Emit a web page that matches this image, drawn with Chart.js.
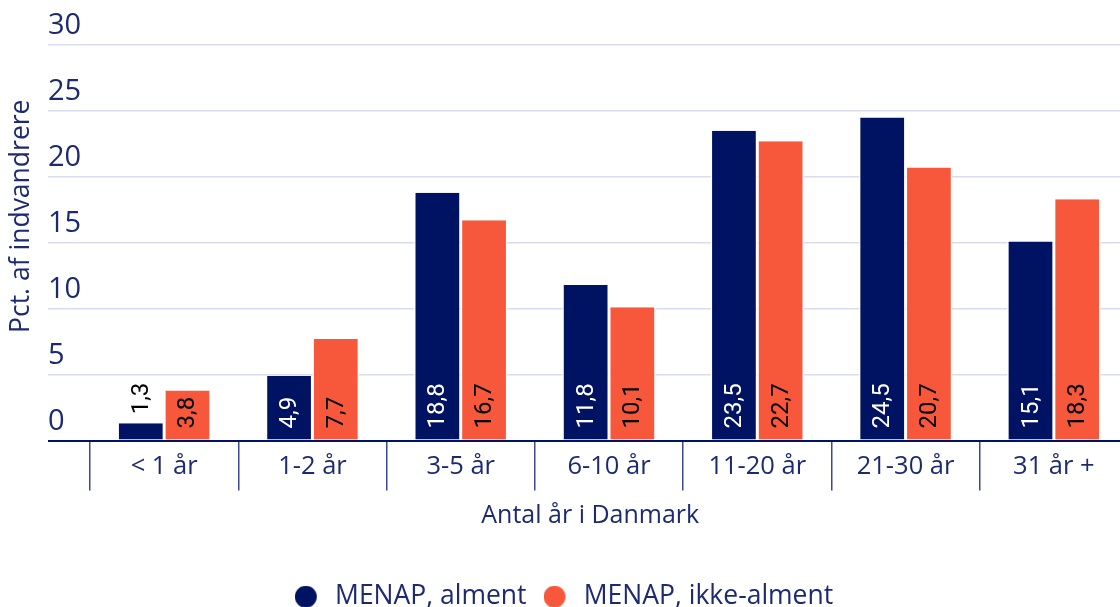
<!DOCTYPE html>
<html>
<head>
<meta charset="utf-8">
<script src="https://cdn.jsdelivr.net/npm/chart.js@4.4.1/dist/chart.umd.min.js"></script>
<style>
  html, body { margin: 0; padding: 0; background: #fff; overflow: hidden; }
  #wrap { width: 1120px; height: 607px; overflow: hidden; }
  canvas { display: block; }
</style>
</head>
<body>
<div id="wrap"><canvas id="chart" width="1130" height="607"></canvas></div>
<script>
// data
const categories = ['< 1 år', '1-2 år', '3-5 år', '6-10 år', '11-20 år', '21-30 år', '31 år +'];
const almentValues = [1.3, 4.9, 18.8, 11.8, 23.5, 24.5, 15.1];
const ikkeAlmentValues = [3.8, 7.7, 16.7, 10.1, 22.7, 20.7, 18.3];
const seriesNames = ['MENAP, alment', 'MENAP, ikke-alment'];
const yTicks = [0, 5, 10, 15, 20, 25, 30];

const NAVY = '#001262';
const ORANGE = '#f7573b';
const TEXT = '#1d2a72';
const GRID = '#d9dcec';
const FONT = "'Open Sans', sans-serif";

// legend dot with some room after it
function dot(color) {
    const c = document.createElement('canvas');
    c.width = 27;
    c.height = 22;
    const g = c.getContext('2d');
    g.fillStyle = color;
    g.beginPath();
    g.arc(11, 11, 11, 0, Math.PI * 2);
    g.fill();
    return c;
}

// values written sideways at the foot of each bar
const barLabels = {
    id: 'barLabels',
    afterDatasetsDraw(chart) {
        const ctx = chart.ctx;
        ctx.save();
        ctx.font = "24px Roboto, sans-serif";
        ctx.textAlign = 'left';
        ctx.textBaseline = 'middle';
        chart.data.datasets.forEach((ds, di) => {
            const meta = chart.getDatasetMeta(di);
            meta.data.forEach((bar, i) => {
                const txt = ds.data[i].toFixed(1).replace('.', ',');
                const w = ctx.measureText(txt).width;
                let start = bar.base - 11;
                let color = di === 0 ? '#ffffff' : '#000000';
                if (bar.base - bar.y < w + 16) {
                    start = bar.y - 9;
                    color = '#000000';
                }
                ctx.fillStyle = color;
                ctx.save();
                ctx.translate(bar.x, start);
                ctx.rotate(-Math.PI / 2);
                ctx.fillText(txt, 0, 1);
                ctx.restore();
            });
        });
        ctx.restore();
    }
};

const ctx = document.getElementById('chart').getContext('2d');

new Chart(ctx, {
    type: 'bar',
    data: {
        labels: categories,
        datasets: [{
            label: seriesNames[0],
            data: almentValues,
            backgroundColor: NAVY,
            borderColor: '#ffffff',
            borderWidth: {left: 1.5, right: 1.5, top: 0, bottom: 0},
            pointStyle: dot(NAVY),
            categoryPercentage: 0.63,
            barPercentage: 1
        }, {
            label: seriesNames[1],
            data: ikkeAlmentValues,
            backgroundColor: ORANGE,
            borderColor: '#ffffff',
            borderWidth: {left: 1.5, right: 1.5, top: 0, bottom: 0},
            pointStyle: dot(ORANGE),
            categoryPercentage: 0.63,
            barPercentage: 1
        }]
    },
    options: {
        responsive: false,
        animation: false,
        layout: {
            padding: {top: 45, right: 2, bottom: -13, left: 0}
        },
        plugins: {
            tooltip: {enabled: false},
            legend: {
                position: 'bottom',
                labels: {
                    usePointStyle: true,
                    boxHeight: 15.6,
                    pointStyleWidth: 27,
                    padding: 17,
                    color: TEXT,
                    font: {family: FONT, size: 26.5}
                }
            }
        },
        scales: {
            x: {
                grid: {
                    offset: true,
                    drawOnChartArea: false,
                    tickLength: 50,
                    color: '#3d4992',
                    lineWidth: 1.5
                },
                border: {color: NAVY, width: 2},
                ticks: {
                    padding: -39,
                    color: TEXT,
                    font: {family: FONT, size: 25.5}
                },
                title: {
                    display: true,
                    // trailing spaces nudge the title a little left, as in the original
                    text: 'Antal år i Danmark\u2003\u2002',
                    color: TEXT,
                    font: {family: FONT, size: 25},
                    padding: {top: 0, bottom: 36}
                },
                afterFit(s) { s.height = 126; }
            },
            y: {
                min: 0,
                max: 30,
                afterBuildTicks(s) { s.ticks = yTicks.map(v => ({value: v})); },
                grid: {
                    tickLength: 42,
                    color: c => c.tick && c.tick.value === 0 ? NAVY : GRID,
                    lineWidth: c => c.tick && c.tick.value === 0 ? 2 : 1.5
                },
                border: {display: false},
                ticks: {
                    crossAlign: 'far',
                    labelOffset: -19,
                    padding: 0,
                    color: TEXT,
                    font: {family: FONT, size: 29}
                },
                afterFit(s) { s.width = 42; }
            },
            yt: {
                type: 'linear',
                position: 'left',
                weight: 1,
                grid: {display: false},
                border: {display: false},
                ticks: {display: false},
                title: {
                    display: true,
                    text: '\u2003\u2003Pct. af indvandrere',
                    color: TEXT,
                    font: {family: FONT, size: 26.5},
                    padding: {top: 6, bottom: 0}
                },
                afterFit(s) { s.width = 48; }
            }
        }
    },
    plugins: [barLabels]
});
</script>
</body>
</html>
